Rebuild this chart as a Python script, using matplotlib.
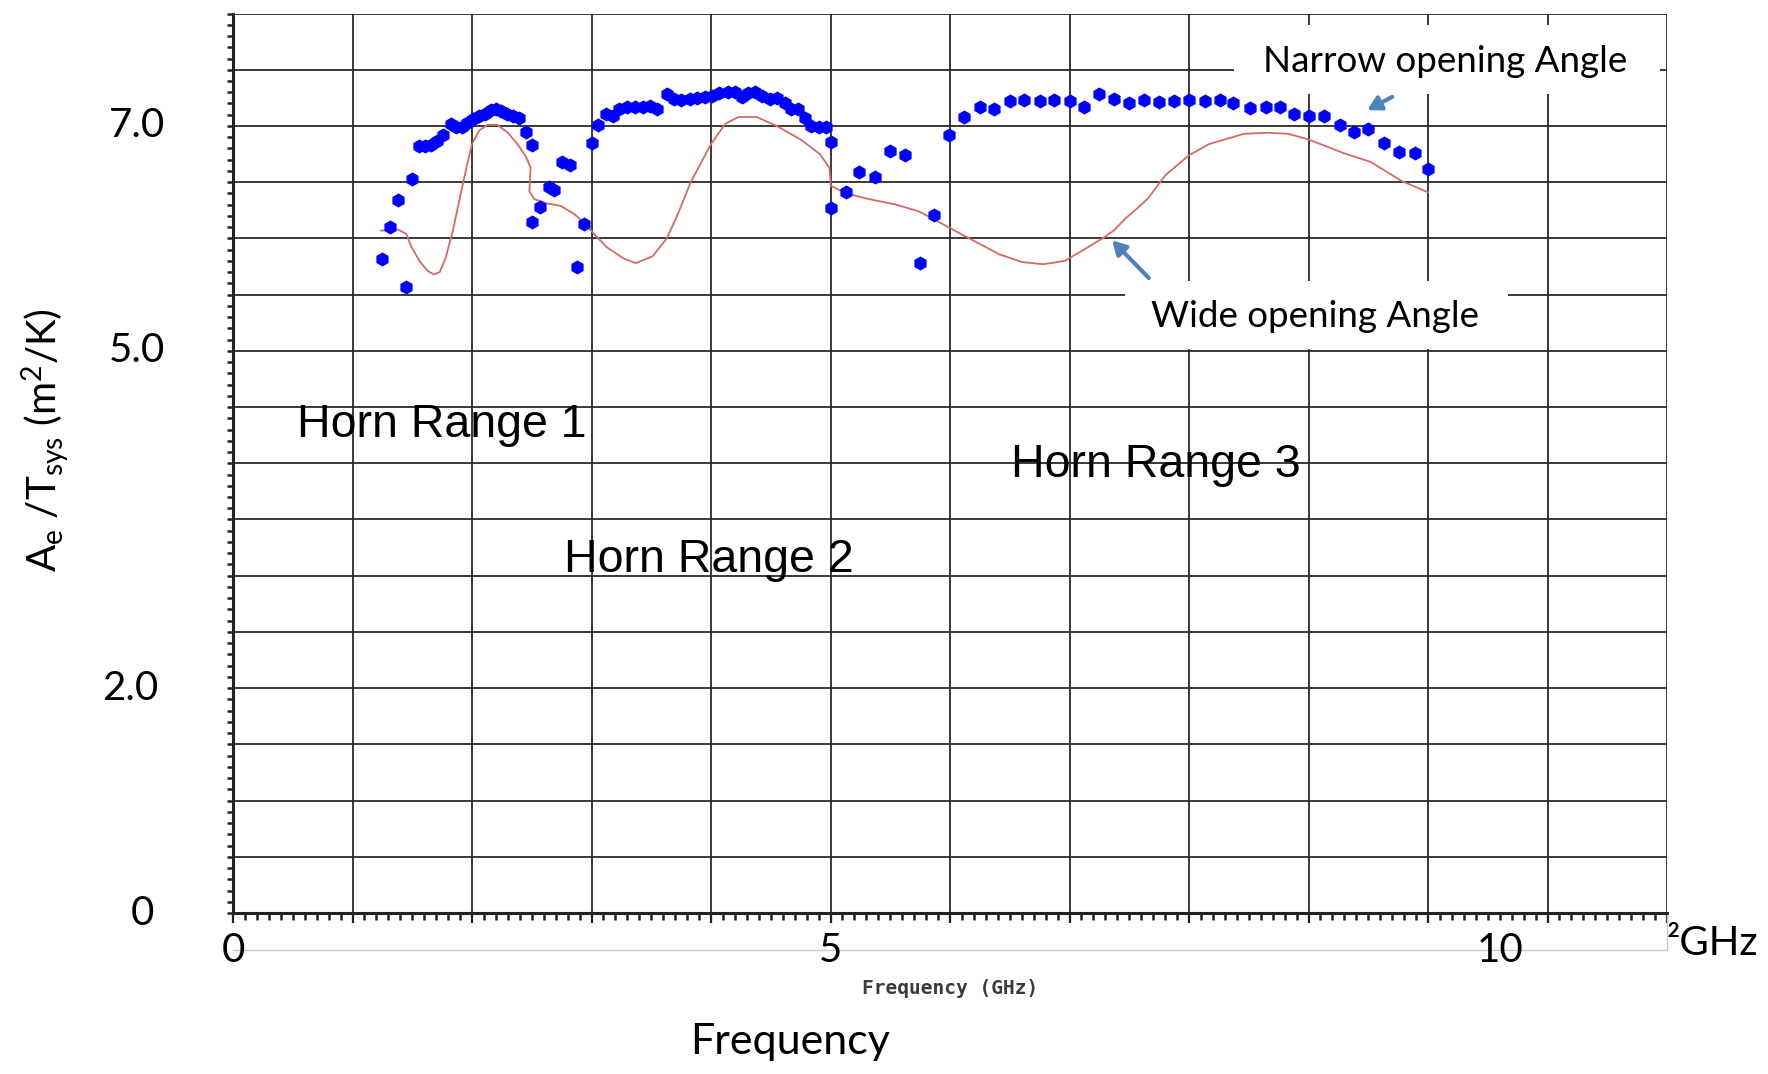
import numpy as np
import matplotlib
matplotlib.use("Agg")
import matplotlib.pyplot as plt
from matplotlib.patches import Rectangle

# wide opening angle (red line), GHz vs Ae/Tsys
wide_freq = [1.24, 1.38, 1.45, 1.49, 1.56, 1.63, 1.68, 1.73, 1.78, 1.84,
             1.91, 1.96, 2.00, 2.06, 2.13, 2.21, 2.30, 2.38, 2.45, 2.49,
             2.48, 2.52, 2.63, 2.74, 2.85, 2.94, 3.02, 3.13, 3.27, 3.37,
             3.51, 3.63, 3.72, 3.83, 4.00, 4.12, 4.23, 4.38, 4.55, 4.75,
             4.91, 4.99, 5.00, 5.00, 5.13, 5.32, 5.55, 5.74, 5.90, 6.09,
             6.25, 6.41, 6.60, 6.78, 6.96, 7.12, 7.29, 7.37, 7.47, 7.57,
             7.66, 7.80, 8.00, 8.17, 8.46, 8.66, 8.83, 9.00, 9.29, 9.52,
             9.78, 10.00]
wide_val = [6.07, 6.08, 6.04, 5.93, 5.80, 5.71, 5.68, 5.70, 5.83, 6.07,
            6.42, 6.66, 6.84, 6.96, 7.01, 7.01, 6.94, 6.84, 6.73, 6.63,
            6.42, 6.35, 6.31, 6.29, 6.22, 6.14, 6.04, 5.92, 5.82, 5.78,
            5.84, 6.00, 6.21, 6.50, 6.84, 7.02, 7.08, 7.08, 7.00, 6.88,
            6.75, 6.63, 6.51, 6.47, 6.40, 6.35, 6.30, 6.24, 6.15, 6.04,
            5.95, 5.86, 5.79, 5.77, 5.80, 5.90, 6.01, 6.07, 6.18, 6.27,
            6.36, 6.56, 6.74, 6.84, 6.93, 6.94, 6.93, 6.88, 6.76, 6.68,
            6.51, 6.41]

# narrow opening angle (blue points)
narrow_freq = [1.25, 1.31, 1.38, 1.45, 1.50, 1.56, 1.61, 1.66, 1.71, 1.76,
               1.82, 1.87, 1.92, 1.96, 2.01, 2.06, 2.11, 2.16, 2.20, 2.24,
               2.29, 2.34, 2.39, 2.45, 2.50, 2.50, 2.57, 2.64, 2.69, 2.75,
               2.82, 2.88, 2.94, 3.00, 3.05, 3.12, 3.18, 3.23, 3.30, 3.36,
               3.43, 3.49, 3.55, 3.63, 3.69, 3.75, 3.82, 3.88, 3.95, 4.01,
               4.07, 4.14, 4.20, 4.26, 4.31, 4.37, 4.43, 4.49, 4.55, 4.62,
               4.67, 4.73, 4.79, 4.84, 4.90, 4.96, 5.00, 5.00, 5.13, 5.24,
               5.37, 5.50, 5.62, 5.75, 5.87, 5.99, 6.12, 6.25, 6.37, 6.50,
               6.62, 6.75, 6.87, 7.00, 7.12, 7.25, 7.37, 7.50, 7.62, 7.75,
               7.87, 8.00, 8.13, 8.26, 8.37, 8.51, 8.64, 8.76, 8.88, 9.00,
               9.13, 9.26, 9.38, 9.50, 9.63, 9.76, 9.89, 10.00]
narrow_val = [5.82, 6.10, 6.34, 5.57, 6.53, 6.82, 6.82, 6.83, 6.87, 6.92,
              7.02, 6.99, 6.99, 7.03, 7.06, 7.09, 7.11, 7.14, 7.15, 7.13,
              7.11, 7.09, 7.07, 6.95, 6.83, 6.15, 6.28, 6.46, 6.43, 6.68,
              6.65, 5.75, 6.13, 6.85, 7.01, 7.11, 7.09, 7.15, 7.17, 7.17,
              7.17, 7.18, 7.15, 7.28, 7.24, 7.23, 7.24, 7.25, 7.26, 7.27,
              7.29, 7.30, 7.30, 7.26, 7.29, 7.30, 7.27, 7.24, 7.25, 7.20,
              7.15, 7.15, 7.07, 7.00, 6.99, 6.99, 6.86, 6.27, 6.41, 6.59,
              6.55, 6.78, 6.74, 5.78, 6.21, 6.92, 7.08, 7.17, 7.15, 7.22,
              7.23, 7.22, 7.23, 7.22, 7.17, 7.28, 7.24, 7.20, 7.23, 7.21,
              7.22, 7.23, 7.22, 7.23, 7.20, 7.16, 7.17, 7.17, 7.11, 7.09,
              7.09, 7.01, 6.95, 6.97, 6.85, 6.77, 6.76, 6.62]

y_label_pos = [7.0, 5.0, 2.0, 0.0]
y_label_text = ["7.0", "5.0", "2.0", "0"]
x_label_pos = [0, 5, 10.6]
x_label_text = ["0", "5", "10"]
horn_labels = ["Horn Range 1", "Horn Range 2", "Horn Range 3"]
horn_pos = [(1.75, 4.23), (3.98, 3.03), (7.72, 3.88)]

plt.rcParams["font.family"] = ["Lato", "DejaVu Sans"]
plt.rcParams["mathtext.fontset"] = "custom"
plt.rcParams["mathtext.rm"] = "Lato"
plt.rcParams["mathtext.it"] = "Lato:italic"

fig = plt.figure(figsize=(17.68, 10.74), dpi=100)
ax = fig.add_axes([0.1318, 0.1499, 0.8111, 0.8375])
ax.set_xlim(0, 12)
ax.set_ylim(0, 8)

grid_kw = dict(color="#2a2a2a", lw=1.3, zorder=1)
for gx in np.arange(1, 12.5, 1):
    ax.axvline(gx, **grid_kw)
for gy in np.arange(0.5, 8.25, 0.5):
    ax.axhline(gy, **grid_kw)

for s in ["top", "right"]:
    ax.spines[s].set_visible(False)
for s in ["left", "bottom"]:
    ax.spines[s].set_linewidth(2.2)
    ax.spines[s].set_color("#222222")
    ax.spines[s].set_zorder(4)

ax.set_xticks(np.arange(0, 12.5, 1))
ax.set_xticks(np.arange(0, 12.05, 0.1), minor=True)
ax.set_yticks(np.arange(0, 8.05, 0.5))
ax.set_yticks(np.arange(0, 8.05, 0.1), minor=True)
ax.tick_params(axis="x", which="major", length=7, width=1.6, color="#222", labelbottom=False)
ax.tick_params(axis="x", which="minor", length=5, width=1.8, color="#222")
ax.tick_params(axis="y", which="both", length=4, width=1.8, color="#222", labelleft=False)

# blank white boxes behind annotations
ax.add_patch(Rectangle((8.38, 7.28), 3.56, 0.62, facecolor="white", edgecolor="none", zorder=2))
ax.add_patch(Rectangle((7.46, 5.02), 3.21, 0.60, facecolor="white", edgecolor="none", zorder=2))

ax.plot(wide_freq, wide_val, color="#d46a66", lw=1.3, zorder=3)
ax.plot(narrow_freq, narrow_val, ls="none", marker="h", ms=9, color="#0000ff", zorder=3)

arrow_kw = dict(arrowstyle="-|>,head_length=0.8,head_width=0.45", color="#4f81bd", lw=3)
ax.annotate("", xy=(9.47, 7.13), xytext=(9.72, 7.27), arrowprops=arrow_kw, zorder=5)
ax.annotate("", xy=(7.34, 6.0), xytext=(7.68, 5.63), arrowprops=arrow_kw, zorder=5)

ax.text(10.14, 7.48, "Narrow opening Angle", fontsize=26.5, ha="center", va="baseline", zorder=5)
ax.text(9.05, 5.21, "Wide opening Angle", fontsize=26.5, ha="center", va="baseline", zorder=5)

for label, (hx, hy) in zip(horn_labels, horn_pos):
    ax.text(hx, hy, label, fontsize=33.5, family="Liberation Sans", ha="center", va="baseline", zorder=5)

# y labels (left of axis)
y_label_x = [-0.80, -0.80, -0.86, -0.76]
for yp, yt, yx in zip(y_label_pos, y_label_text, y_label_x):
    ax.text(yx, yp, yt, fontsize=29, ha="center", va="center", clip_on=False)

# x labels and leftover screenshot frame
ax.plot([0, 12, 12], [-0.33, -0.33, 0], color="#c8c8c8", lw=1, clip_on=False)
for xp, xt in zip(x_label_pos, x_label_text):
    ax.text(xp, -0.33, xt, fontsize=29, ha="center", va="center", clip_on=False)
ax.text(12.0, -0.27, "²GHz", fontsize=29, ha="left", va="center", clip_on=False)
ax.text(6.0, -0.67, "Frequency (GHz)", fontsize=14, family="DejaVu Sans Mono",
        fontweight="bold", color="#3a3a3a", ha="center", va="center", clip_on=False)
ax.text(4.66, -1.15, "Frequency", fontsize=31, ha="center", va="center", clip_on=False)

fig.text(0.0255, 0.59, r"A$_\mathrm{e}$ /T$_\mathrm{sys}$ (m$^\mathrm{2}$/K)",
         fontsize=29, rotation=90, ha="center", va="center")

fig.savefig("out.png", dpi=100)
